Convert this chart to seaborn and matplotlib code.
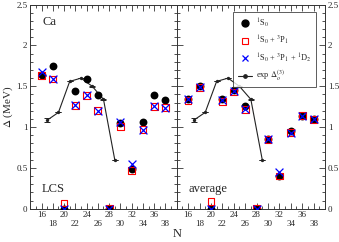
import numpy as np
import pandas as pd
import matplotlib

matplotlib.use('Agg')
import matplotlib.pyplot as plt
import seaborn as sns
from matplotlib.ticker import MultipleLocator, FixedLocator
from matplotlib.lines import Line2D

sns.set_theme(style="ticks")
plt.rcParams['font.family'] = ['Liberation Serif', 'DejaVu Serif']
plt.rcParams['mathtext.fontset'] = 'stix'

# ---- data ----
N = [16, 18, 20, 22, 24, 26, 28, 30, 32, 34, 36, 38]

lcs_s0 = [1.64, 1.75, 0.0, 1.44, 1.585, 1.39, 0.0, 1.05, 0.49, 1.06, 1.39, 1.33]
lcs_s0p1 = [1.63, 1.59, 0.07, 1.265, 1.39, 1.20, 0.0, 1.005, 0.47, 0.97, 1.256, 1.24]
lcs_s0p1d2 = [1.67, 1.59, 0.0, 1.265, 1.39, 1.20, 0.0, 1.06, 0.55, 0.97, 1.26, 1.24]

avg_s0 = [1.34, 1.50, 0.0, 1.34, 1.46, 1.26, 0.0, 0.85, 0.40, 0.95, 1.14, 1.10]
avg_s0p1 = [1.33, 1.49, 0.085, 1.31, 1.43, 1.22, 0.0, 0.85, 0.40, 0.93, 1.14, 1.095]
avg_s0p1d2 = [1.34, 1.49, 0.0, 1.33, 1.44, 1.22, 0.0, 0.85, 0.45, 0.93, 1.14, 1.095]

N_exp = [17, 19, 21, 23, 25, 27, 29]
exp_gap = [1.085, 1.18, 1.56, 1.60, 1.50, 1.34, 0.60]
exp_err = [0.025, 0.0, 0.0, 0.0, 0.005, 0.005, 0.0]

x_major = list(range(16, 39, 2))
x_labels = [str(v) if i % 2 == 0 else "\n" + str(v) for i, v in enumerate(x_major)]
y_major = [0, 0.5, 1, 1.5, 2, 2.5]
y_labels = ["0", "0.5", "1", "1.5", "2", "2.5"]

lab_s0 = r"$^1$S$_0$"
lab_p1 = r"$^1$S$_0$ + $^3$P$_1$"
lab_d2 = r"$^1$S$_0$ + $^3$P$_1$ + $^1$D$_2$"
lab_exp = r"exp $\Delta_o^{(3)}$"

fig = plt.figure(figsize=(3.39, 2.42), dpi=100)
ax1 = fig.add_axes([0.0894, 0.1376, 0.4318, 0.843])
ax2 = fig.add_axes([0.5212, 0.1376, 0.4375, 0.843])

panels = [(ax1, lcs_s0, lcs_s0p1, lcs_s0p1d2, "LCS"),
          (ax2, avg_s0, avg_s0p1, avg_s0p1d2, "average")]

for ax, s0, p1, d2, name in panels:
    df = pd.DataFrame({'N': N, 's0': s0, 'p1': p1, 'd2': d2})
    dexp = pd.DataFrame({'N': N_exp, 'gap': exp_gap})
    sns.lineplot(data=dexp, x='N', y='gap', ax=ax, color='#222222', lw=0.8,
                 marker='o', markersize=2.4, markeredgewidth=0, zorder=2)
    ax.errorbar(N_exp, exp_gap, yerr=exp_err, fmt='none', ecolor='#222222',
                elinewidth=0.7, capsize=2.5, capthick=0.7, zorder=2)
    sns.scatterplot(data=df, x='N', y='s0', ax=ax, color='black', marker='o',
                    s=32, edgecolor='black', linewidth=0, zorder=3)
    sns.scatterplot(data=df, x='N', y='p1', ax=ax, marker='s', s=24,
                    facecolor='none', edgecolor='red', linewidth=0.8, zorder=4)
    sns.scatterplot(data=df, x='N', y='d2', ax=ax, color='blue', marker='x',
                    s=32, linewidth=0.9, zorder=5)

    ax.set_xlim(14, 40)
    ax.set_ylim(0, 2.5)
    ax.xaxis.set_major_locator(FixedLocator(x_major))
    ax.xaxis.set_minor_locator(MultipleLocator(1))
    ax.yaxis.set_major_locator(FixedLocator(y_major))
    ax.yaxis.set_minor_locator(MultipleLocator(0.1))
    ax.set_xticklabels(x_labels, fontsize=6.5, linespacing=1.15)
    ax.tick_params(which='both', direction='in', top=True, bottom=True,
                   left=True, right=True, color='#333333', width=0.6)
    ax.tick_params(which='major', length=4, pad=2)
    ax.tick_params(which='minor', length=2)
    ax.set_xlabel('')
    ax.set_ylabel('')
    for sp in ax.spines.values():
        sp.set_linewidth(0.7)
        sp.set_color('#333333')
    ax.text(0.08, 0.08, name, transform=ax.transAxes, fontsize=9)

ax1.set_yticklabels(y_labels, fontsize=6.5)
ax1.text(0.08, 0.9, "Ca", transform=ax1.transAxes, fontsize=9)
ax1.set_ylabel(r"$\Delta$ (MeV)", fontsize=8, labelpad=1)

ax2.yaxis.tick_right()
ax2.tick_params(which='both', left=True, right=True, labelleft=False, labelright=True)
ax2.set_yticklabels(y_labels, fontsize=6.5)

fig.text(0.522, 0.02, "N", fontsize=9, ha='center')

handles = [
    Line2D([], [], ls='none', marker='o', color='black', markersize=5),
    Line2D([], [], ls='none', marker='s', markerfacecolor='none',
           markeredgecolor='red', markersize=4.5, markeredgewidth=0.8),
    Line2D([], [], ls='none', marker='x', color='blue', markersize=5,
           markeredgewidth=0.9),
    Line2D([], [], color='#222222', lw=0.8, marker='o', markersize=2.4),
]
leg = ax2.legend(handles, [lab_s0, lab_p1, lab_d2, lab_exp], loc='upper right',
                 bbox_to_anchor=(0.937, 0.962), borderaxespad=0,
                 fontsize=6, frameon=True, fancybox=False,
                 edgecolor='#333333', handlelength=1.7, labelspacing=0.5,
                 borderpad=0.5, handletextpad=0.5)
leg.get_frame().set_linewidth(0.7)

fig.savefig('out.png', dpi=100)
